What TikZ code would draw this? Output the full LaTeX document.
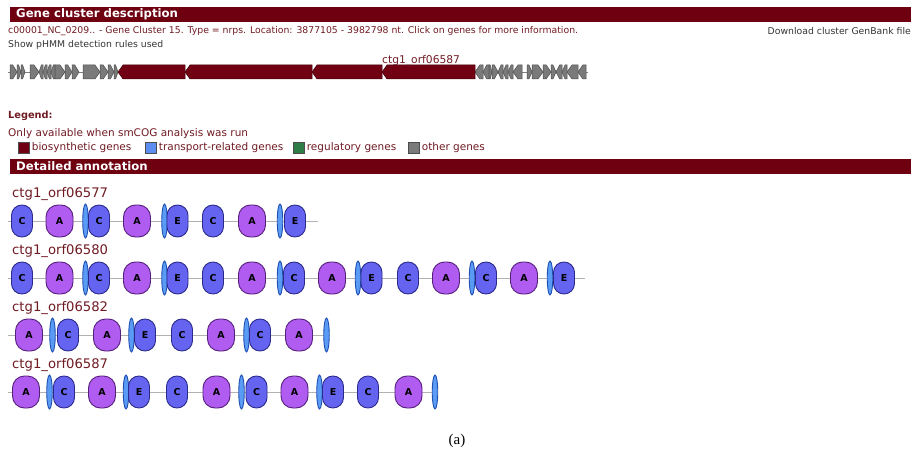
\documentclass[tikz,border=0pt]{standalone}
\usepackage{fontspec}
\setmainfont{DejaVu Sans}
\newfontfamily\capfont{Liberation Serif}
\usetikzlibrary{positioning,shapes.geometric}
\definecolor{barred}{HTML}{6E0010}
\definecolor{generd}{HTML}{700012}
\definecolor{txtred}{HTML}{701A22}
\definecolor{txtgray}{HTML}{333333}
\definecolor{genegray}{HTML}{7A7A7A}
\definecolor{modblue}{HTML}{6464F0}
\definecolor{modblueD}{HTML}{2A2A8A}
\definecolor{modpurp}{HTML}{B05CF0}
\definecolor{modpurpD}{HTML}{55207A}
\definecolor{pcpblue}{HTML}{5A9CF5}
\definecolor{pcpblueD}{HTML}{1F4FB0}
\definecolor{legblue}{HTML}{5B8EF0}
\definecolor{leggreen}{HTML}{2E7D46}
\tikzset{
  headbar/.style={fill=barred, draw=none},
  headtxt/.style={anchor=west, inner sep=0pt, text=white, font=\fontsize{11.7}{13}\selectfont\bfseries},
  plaintxt/.style={anchor=west, inner sep=0pt, font=\fontsize{9.3}{11}\selectfont},
  legtxt/.style={plaintxt, text=txtred, font=\fontsize{10.5}{12}\selectfont},
  swatch/.style={draw=black!70, minimum size=11pt, inner sep=0pt},
  genebox/.style={fill=genegray, draw=black!70, line width=0.5pt},
  generedbox/.style={fill=generd, draw=generd!60!black, line width=0.5pt},
}
\newcommand\domlabel[1]{\if#1P\else#1\fi}
\newcommand\genearrow[4]{% start, end, direction, style
  \pgfmathsetmacro\gh{min(5,(#2-#1)*0.6)}
  \ifnum#3>0
    \draw[#4] (#1,65) -- (#2-\gh,65) -- (#2,72) -- (#2-\gh,79) -- (#1,79) -- cycle;
  \else
    \draw[#4] (#2,65) -- (#1+\gh,65) -- (#1,72) -- (#1+\gh,79) -- (#2,79) -- cycle;
  \fi}

\begin{document}
\begin{tikzpicture}[
  x=1pt, y=-1pt,
  domC/.style={draw=modblueD, fill=modblue, line width=0.9pt, rounded corners=10.4pt,
    minimum width=21pt, minimum height=32pt, inner sep=0pt, font=\fontsize{9.5}{10}\selectfont\bfseries},
  domE/.style={domC},
  domA/.style={domC, draw=modpurpD, fill=modpurp, minimum width=27pt, rounded corners=12pt},
  domP/.style={ellipse, draw=pcpblueD, fill=pcpblue, line width=0.9pt,
    minimum width=5.5pt, minimum height=34pt, inner sep=0pt},
  rowlbl/.style={anchor=west, inner sep=0pt, text=txtred, font=\fontsize{13.2}{15}\selectfont},
  backbone/.style={draw=black!30, line width=0.8pt},
]
  \useasboundingbox (0,0) rectangle (913,452);

  % Cluster header
  \fill[headbar] (10,7) rectangle (911,22);
  \node[headtxt] (hd1) at (16,14.5) {Gene cluster description};
  \node[plaintxt, text=txtred] (desc) at (8,31) {c00001\_NC\_0209.. - Gene Cluster 15. Type = nrps. Location: 3877105 - 3982798 nt. Click on genes for more information.};
  \node[plaintxt, text=txtgray, anchor=east] (dl) at (911,31) {Download cluster GenBank file};
  \node[plaintxt, text=txtgray] (rules) at (8,45) {Show pHMM detection rules used};

  % Gene map
  \coordinate (gl) at (8,72);
  \coordinate (gr) at (588,72);
  \draw[black!50, line width=0.6pt] (gl) -- (gr);
  \foreach \s/\e/\d in {10/17/1,17/21/1,21/25/1,30/39/1,39/43/-1,43/47/-1,47/51/-1,51/55/-1,
      55/65/1,65/72/1,72/79/1,83/100/1,100/108/1,108/114/1,114/118/1,
      475/483/-1,483/489/-1,489/492/1,492/498/1,498/503/-1,503/508/-1,508/513/-1,513/522/-1,
      527/532/1,532/543/1,543/551/1,551/556/1,556/562/-1,562/567/-1,567/578/-1,578/586/-1}
    {\genearrow{\s}{\e}{\d}{genebox}}
  \foreach \s/\e in {118/185,185/312,312/382,382/475}
    {\genearrow{\s}{\e}{-1}{generedbox}}
  \node[rowlbl, font=\fontsize{10.7}{12}\selectfont, anchor=south west] (glbl) at (382,66) {ctg1\_orf06587};

  % Legend
  \node[legtxt, font=\fontsize{9.8}{11}\selectfont\bfseries] (leg) at (8,116) {Legend:};
  \node[legtxt] (only) at (8,134) {Only available when smCOG analysis was run};
  \node[swatch, fill=generd] (sw1) at (24,148) {};
  \node[legtxt, right=2pt of sw1] (lt1) {biosynthetic genes};
  \node[swatch, fill=legblue] (sw2) at (151,148) {};
  \node[legtxt, right=2pt of sw2] (lt2) {transport-related genes};
  \node[swatch, fill=leggreen] (sw3) at (299,148) {};
  \node[legtxt, right=2pt of sw3] (lt3) {regulatory genes};
  \node[swatch, fill=genegray] (sw4) at (414,148) {};
  \node[legtxt, right=2pt of sw4] (lt4) {other genes};

  % Detailed annotation
  \fill[headbar] (10,159) rectangle (911,174);
  \node[headtxt] (hd2) at (16,166.5) {Detailed annotation};

  % Domain rows
  \foreach \r/\y/\xe/\lbl/\doms in {
      1/221/318/06577/{C/22,A/59.5,P/85.5,C/99,A/137,P/164.5,E/177.5,C/213,A/252,P/280,E/295},
      2/278/585/06580/{C/22,A/59.5,P/85.5,C/99,A/137,P/164.5,E/177.5,C/213,A/252,P/280,C/294,
        A/332,P/358,E/371.5,C/408,A/446,P/472,C/486,A/524,P/550,E/564},
      3/335/330/06582/{A/29,P/52.5,C/68,A/107,P/131.5,E/145,C/182,A/221,P/246.5,C/260,A/299,P/326.5},
      4/392/437/06587/{A/26,P/49.5,C/64,A/102,P/126,E/139,C/177,A/216.5,P/241.5,C/256.5,A/294.5,
        P/319.5,E/333,C/368,A/408.5,P/435}}
  {
    \node[rowlbl] (lbl\r) at (12,\y-27) {ctg1\_orf\lbl};
    \coordinate (bs\r) at (8,\y);
    \coordinate (be\r) at (\xe,\y);
    \draw[backbone] (bs\r) -- (be\r);
    \foreach \k/\x [count=\i] in \doms
      \node[dom\k] (d\r-\i) at (\x,\y) {\domlabel{\k}};
  }

  \node[inner sep=0pt, font=\capfont\fontsize{15}{17}\selectfont] (cap) at (457,441) {(a)};
\end{tikzpicture}
\end{document}
